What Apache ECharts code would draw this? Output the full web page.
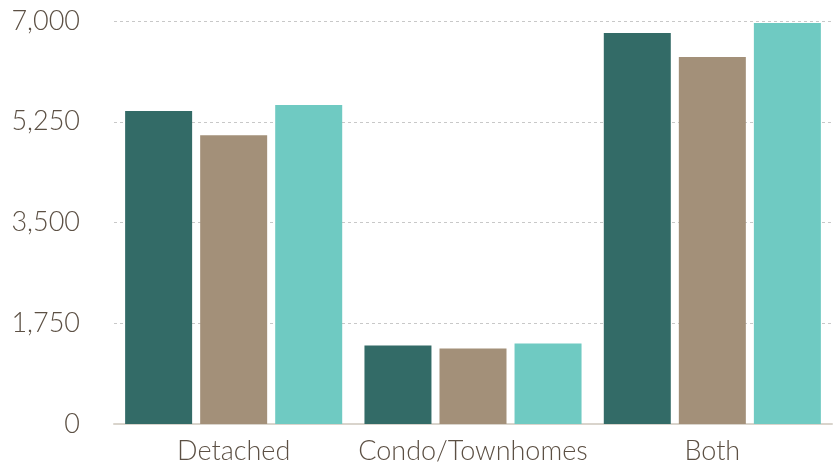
<!DOCTYPE html>
<html><head><meta charset="utf-8">
<script src="https://cdn.jsdelivr.net/npm/echarts@6/dist/echarts.min.js"></script>
<style>html,body{margin:0;padding:0;background:#fff}#c{width:833px;height:470px}</style>
</head><body><div id="c"></div>
<script>
const categories = ['Detached', 'Condo/Townhomes', 'Both'];
const series1 = [5435, 1365, 6790];
const series2 = [5017, 1313, 6375];
const series3 = [5540, 1400, 6965];
const yTicks = [0, 1750, 3500, 5250, 7000];

const colors = ['#336b67', '#a39079', '#6fcac2'];
const textColor = '#5c5044';
const font = 'Lato';
const chart = echarts.init(document.getElementById('c'), null, {renderer: 'canvas'});
chart.setOption({
  animation: false,
  grid: {left: 114, right: 1, top: 21, bottom: 46, containLabel: false},
  xAxis: {
    type: 'category', data: categories,
    axisLine: {lineStyle: {color: '#d9d4cc', width: 2}},
    axisTick: {show: false},
    axisLabel: {interval: 0, color: textColor, fontSize: 27, fontWeight: 300, fontFamily: font, margin: 14}
  },
  yAxis: {
    type: 'value', min: yTicks[0], max: yTicks[yTicks.length - 1], interval: 1750,
    axisLine: {show: false}, axisTick: {show: false},
    splitLine: {lineStyle: {color: '#c8c8c8', type: [3, 3], width: 1}},
    axisLabel: {color: textColor, fontSize: 27, fontWeight: 300, fontFamily: font, margin: 34,
      formatter: v => v.toLocaleString('en-US')}
  },
  series: [series1, series2, series3].map((d, i) => ({
    type: 'bar', data: d, barWidth: 67, barGap: '12%',
    itemStyle: {color: colors[i]}
  }))
});
</script></body></html>
